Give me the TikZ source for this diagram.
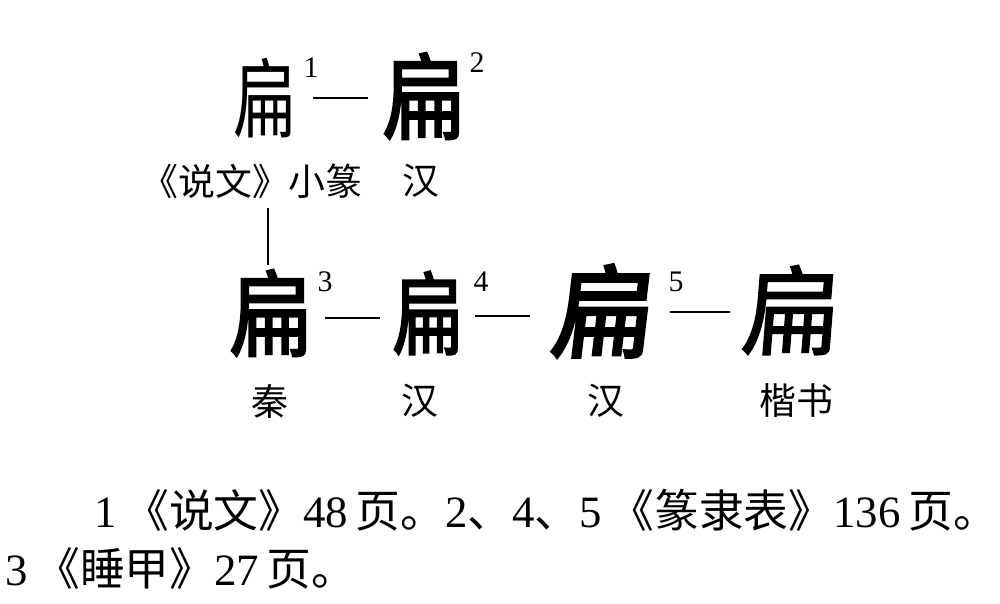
\documentclass[tikz,border=0pt]{standalone}
\usepackage{fontspec}
\setmainfont{Liberation Serif}
\newfontfamily\cjk{Noto Sans CJK SC}
\newfontfamily\cjkthin{Noto Sans CJK SC}
\newfontfamily\cjkbold[FakeBold=2.5]{Noto Sans CJK SC}
\newfontfamily\cjkslant[FakeBold=3,FakeSlant=0.12]{Noto Sans CJK SC}
\newfontfamily\cjkmid[FakeBold=1.5,FakeSlant=0.08]{Noto Sans CJK SC}
\begin{document}
\begin{tikzpicture}[x=0.02cm,y=-0.02cm,
  glyph/.style={inner sep=0pt,font=\fontsize{52}{56}\selectfont},
  supnum/.style={inner sep=0pt,font=\fontsize{17}{18}\selectfont},
  lab/.style={inner sep=0pt,font=\cjk\fontsize{21}{24}\selectfont},
  note/.style={inner sep=0pt,anchor=west,font=\fontsize{25.5}{29}\selectfont},
  link/.style={line width=1.3pt,black}]
\fill[white] (0,0) rectangle (1000,603);
\useasboundingbox (0,0) rectangle (1000,603);
% row 1
\node[glyph,xscale=0.72,font=\cjkthin\fontsize{50}{54}\selectfont] (g1) at (265,98) {扁};
\node[supnum] (s1) at (311,68) {1};
\node[glyph,xscale=0.88,font=\cjkbold\fontsize{54}{58}\selectfont] (g2) at (424,96) {扁};
\node[supnum] (s2) at (477,63) {2};
\draw[link] (313,98) coordinate (d1a) -- (368,98) coordinate (d1b);
\node[lab] (la1) at (252,181) {《说文》小篆};
\node[lab] (la2) at (421,181) {汉};
% vertical connector
\draw[link] (268,208) coordinate (v1) -- (268,265) coordinate (v2);
% row 2
\node[glyph,xscale=0.88,font=\cjkbold\fontsize{54}{58}\selectfont] (g3) at (271,313) {扁};
\node[supnum] (s3) at (325,282) {3};
\node[glyph,xscale=0.78,font=\cjkbold\fontsize{52}{56}\selectfont] (g4) at (428,313) {扁};
\node[supnum] (s4) at (481,282) {4};
\node[glyph,font=\cjkslant\fontsize{58}{62}\selectfont] (g5) at (600,311) {扁};
\node[supnum] (s5) at (676,282) {5};
\node[glyph,font=\cjkmid\fontsize{56}{60}\selectfont] (g6) at (789,310) {扁};
\draw[link] (325,318) coordinate (d2a) -- (380,318) coordinate (d2b);
\draw[link] (475,316) coordinate (d3a) -- (530,316) coordinate (d3b);
\draw[link] (670,312) coordinate (d4a) -- (730,312) coordinate (d4b);
\node[lab] (lb1) at (270,401) {秦};
\node[lab] (lb2) at (420,401) {汉};
\node[lab] (lb3) at (606,401) {汉};
\node[lab] (lb4) at (796,401) {楷书};
% notes
\node[note] (n1) at (94,510) {1\,{\cjk《说文》}48\,{\cjk 页。}2{\cjk 、}4{\cjk 、}5\,{\cjk《篆隶表》}136\,{\cjk 页。}};
\node[note] (n2) at (5,568) {3\,{\cjk《睡甲》}27\,{\cjk 页。}};
\end{tikzpicture}
\end{document}
